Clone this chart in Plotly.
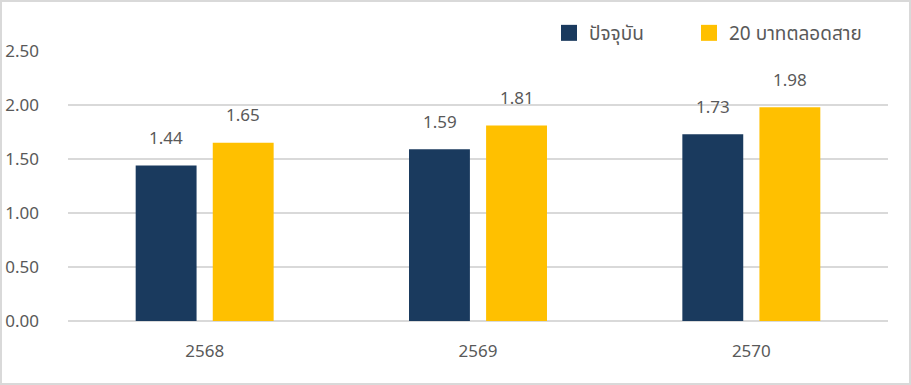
import plotly.graph_objects as go

years = ["2568", "2569", "2570"]
current = [1.44, 1.59, 1.73]
flat20 = [1.65, 1.81, 1.98]
series_names = ["ปัจจุบัน", "20 บาทตลอดสาย"]
y_ticks = [0, 0.5, 1.0, 1.5, 2.0, 2.5]

FONT = "Noto Sans, Noto Sans Thai, Tahoma, sans-serif"
GRAY = "#595959"
NAVY = "#1a3a5e"
GOLD = "#ffc000"

fig = go.Figure()
fig.add_trace(go.Bar(name=series_names[0], x=years, y=current, marker_color=NAVY,
                     marker_line_width=0, showlegend=False))
fig.add_trace(go.Bar(name=series_names[1], x=years, y=flat20, marker_color=GOLD,
                     marker_line_width=0, showlegend=False))
# legend entries with larger square markers, each in its own legend box
for name, col, lg in zip(series_names, [NAVY, GOLD], ["legend", "legend2"]):
    fig.add_trace(go.Scatter(name=name, x=[None], y=[None], mode="markers",
                             marker=dict(symbol="square", size=17, color=col),
                             legend=lg))

# value labels above bars (x given as category index)
for vals, off in [(current, -0.5), (flat20, 0.5)]:
    for i, v in enumerate(vals):
        fig.add_annotation(x=i, y=v, text=f"{v:.2f}", showarrow=False,
                           xshift=off * 77, yshift=28,
                           font=dict(family=FONT, size=17, color=GRAY))

W, H = 911, 385
l, r, t, b = 68, 23, 51, 64
pw, ph = W - l - r, H - t - b
fig.add_shape(type="rect", xref="paper", yref="paper",
              x0=-(l - 1) / pw, x1=1 + (r - 1) / pw,
              y0=-(b - 1) / ph, y1=1 + (t - 1) / ph,
              line=dict(color="#d9d9d9", width=2), layer="below")

legend_common = dict(orientation="h", xanchor="left", y=1 + 18 / ph, yanchor="middle",
                     font=dict(family=FONT, size=19, color=GRAY),
                     itemwidth=30, bgcolor="rgba(0,0,0,0)")

fig.update_layout(
    width=W, height=H,
    margin=dict(l=l, r=r, t=t, b=b, autoexpand=False),
    paper_bgcolor="white", plot_bgcolor="white",
    barmode="group", bargap=0.436, bargroupgap=0.21,
    font=dict(family=FONT, size=16, color=GRAY),
    showlegend=True,
    legend=dict(x=(549 - l) / pw, **legend_common),
    legend2=dict(x=(689 - l) / pw, **legend_common),
    xaxis=dict(type="category", range=[-0.5, 2.5], autorange=False,
               showgrid=False, showline=False, zeroline=False, ticks="",
               ticklabelstandoff=18,
               tickfont=dict(family=FONT, size=17, color=GRAY)),
    yaxis=dict(range=[0, 2.5001], autorange=False, tickvals=y_ticks, tickformat=".2f",
               showgrid=True, gridcolor="#d9d9d9", gridwidth=2,
               zeroline=True, zerolinecolor="#d9d9d9", zerolinewidth=2,
               showline=False, ticks="", ticklabelstandoff=28,
               tickfont=dict(family=FONT, size=17, color=GRAY)),
)

fig.write_html("out.html", config={"displayModeBar": False},
               post_script="document.body.style.margin='0';")
